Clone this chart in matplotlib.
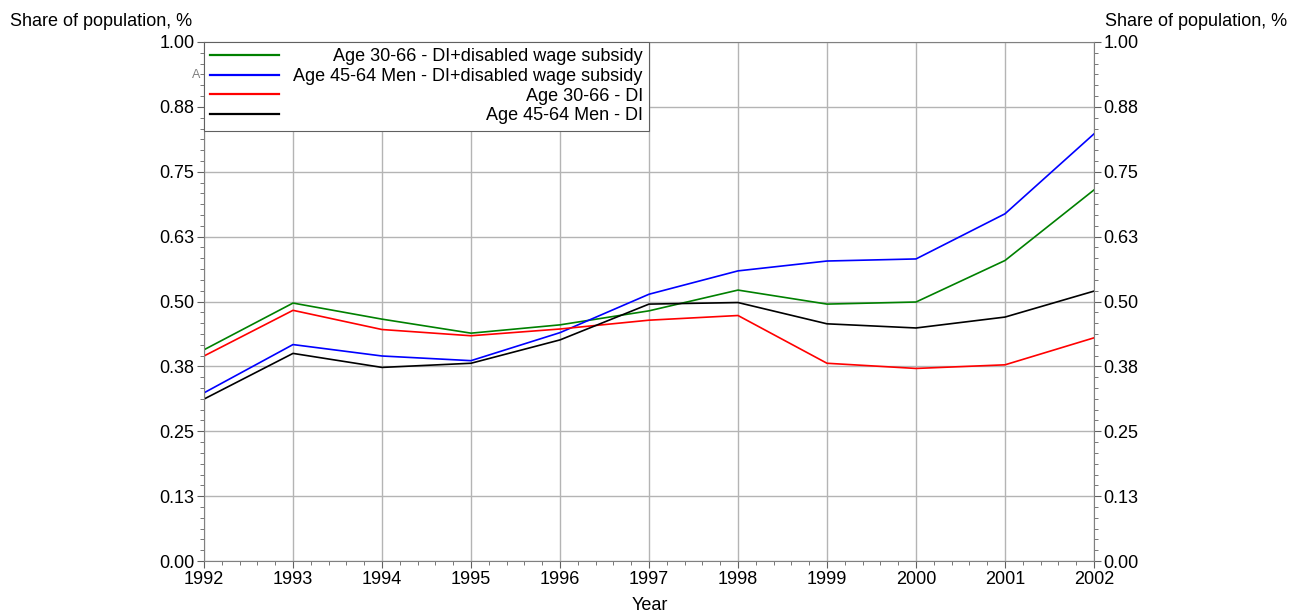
import numpy as np
import matplotlib.pyplot as plt
from matplotlib.ticker import MultipleLocator, FixedLocator, FixedFormatter

plt.rcParams['font.family'] = ['Liberation Sans', 'DejaVu Sans']

years = [1992, 1993, 1994, 1995, 1996, 1997, 1998, 1999, 2000, 2001, 2002]
all_subsidy = [0.407, 0.497, 0.466, 0.439, 0.455, 0.482, 0.522, 0.495, 0.499, 0.579, 0.715]
men_subsidy = [0.324, 0.417, 0.395, 0.386, 0.440, 0.514, 0.559, 0.578, 0.582, 0.669, 0.823]
all_di = [0.395, 0.483, 0.446, 0.434, 0.447, 0.464, 0.473, 0.381, 0.371, 0.378, 0.430]
men_di = [0.312, 0.400, 0.373, 0.381, 0.426, 0.495, 0.498, 0.457, 0.449, 0.470, 0.520]

series_labels = ["Age 30-66 - DI+disabled wage subsidy",
                 "Age 45-64 Men - DI+disabled wage subsidy",
                 "Age 30-66 - DI",
                 "Age 45-64 Men - DI"]
series_colors = ["#008000", "#0000ff", "#ff0000", "#000000"]

y_ticks = [0.0, 0.125, 0.25, 0.375, 0.5, 0.625, 0.75, 0.875, 1.0]
y_tick_labels = ["0.00", "0.13", "0.25", "0.38", "0.50", "0.63", "0.75", "0.88", "1.00"]

fig = plt.figure(figsize=(12.97, 6.15), dpi=100)
ax = fig.add_axes([204 / 1297, 1 - 561 / 615, 890 / 1297, 519 / 615])

for vals, lab, col in zip([all_subsidy, men_subsidy, all_di, men_di], series_labels, series_colors):
    ax.plot(years, vals, color=col, lw=1.2, label=lab)

ax.set_xlim(1992, 2002)
ax.set_ylim(0, 1)
ax.set_xticks(years)
ax.xaxis.set_minor_locator(MultipleLocator(0.2))
ax.yaxis.set_major_locator(FixedLocator(y_ticks))
ax.yaxis.set_major_formatter(FixedFormatter(y_tick_labels))
ax.yaxis.set_minor_locator(MultipleLocator(0.125 / 6))

ax.grid(True, which='major', color='#b4b4b4', lw=1.0)
for s in ax.spines.values():
    s.set_color('#808080')
ax.tick_params(which='both', direction='out', color='#606060', labelsize=13,
               left=True, right=True, labelright=True, bottom=True)
ax.tick_params(which='major', length=5, pad=2)
ax.tick_params(which='minor', length=3)

fig.text(10 / 1297, 1 - 21 / 615, "Share of population, %", fontsize=13, va='center', ha='left')
fig.text(1287 / 1297, 1 - 21 / 615, "Share of population, %", fontsize=13, va='center', ha='right')
fig.text(650 / 1297, 1 - 606 / 615, "Year", fontsize=13, va='center', ha='center')
fig.text(196 / 1297, 1 - 75 / 615, "A", fontsize=9, color='#808080', va='center', ha='center')

leg = ax.legend(loc='upper left', bbox_to_anchor=(0, 1), borderaxespad=0, fontsize=13,
                handlelength=3.8, handletextpad=0.8, labelspacing=0.15,
                fancybox=False, framealpha=1, edgecolor='#606060', borderpad=0.35)
leg.get_frame().set_linewidth(0.8)
for h in leg.get_lines():
    h.set_linewidth(1.6)

# right-align the legend texts while keeping the handles on the left
fig.canvas.draw()
renderer = fig.canvas.get_renderer()
texts = leg.get_texts()
widths = [t.get_window_extent(renderer).width for t in texts]
maxw = max(widths)
col = leg._legend_handle_box.get_children()[0]
for item, w in zip(col.get_children(), widths):
    item.sep = item.sep + (maxw - w) * 72 / fig.dpi

fig.savefig("out.png", dpi=100)
